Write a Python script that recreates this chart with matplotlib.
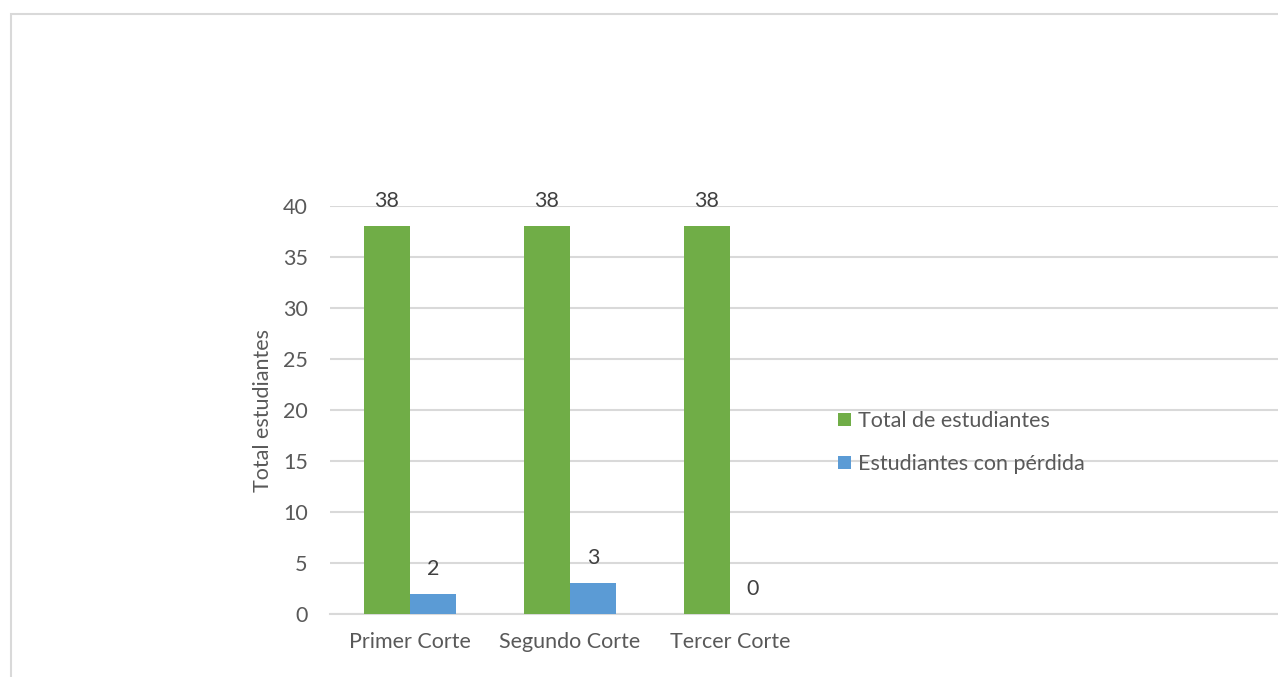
import matplotlib.pyplot as plt
from matplotlib.patches import Rectangle

# Datos
cortes = ["Primer Corte", "Segundo Corte", "Tercer Corte"]
total_estudiantes = [38, 38, 38]
estudiantes_perdida = [2, 3, 0]
etiquetas_series = ["Total de estudiantes", "Estudiantes con pérdida"]

verde = "#70AD47"
azul = "#5B9BD5"
gris_texto = "#595959"
gris_linea = "#D9D9D9"
fs = 15.5

plt.rcParams['font.family'] = ['Lato', 'DejaVu Sans']

W, H = 1278, 677
fig = plt.figure(figsize=(W / 100, H / 100), dpi=100)

# borde del gráfico
fig.patches.append(Rectangle((10.5 / W, -0.1), 1.2, 1 - 13.5 / H + 0.1,
                             transform=fig.transFigure, fill=False,
                             edgecolor=gris_linea, linewidth=1.5))

ax = fig.add_axes([330 / W, 1 - 614 / H, (W - 330) / W, 408 / H])

x = list(range(len(cortes)))
ancho = 0.2875
b1 = ax.bar([i - ancho / 2 for i in x], total_estudiantes, width=ancho, color=verde,
            label=etiquetas_series[0], zorder=3)
b2 = ax.bar([i + ancho / 2 for i in x], estudiantes_perdida, width=ancho, color=azul,
            label=etiquetas_series[1], zorder=3)

for barras in (b1, b2):
    for rect in barras:
        h = rect.get_height()
        ax.annotate(f"{h:g}", (rect.get_x() + rect.get_width() / 2, h),
                    xytext=(0, 18), textcoords="offset points",
                    ha="center", va="center", fontsize=fs, color="#404040",
                    annotation_clip=False)

ax.set_xlim(-0.5, -0.5 + (W - 330) / 160)
ax.set_ylim(0, 40)
ax.set_yticks(range(0, 41, 5))
ax.set_xticks(x)
ax.set_xticklabels(cortes)
ax.tick_params(axis="both", length=0, labelsize=fs, labelcolor=gris_texto)
ax.tick_params(axis="y", pad=16)
ax.tick_params(axis="x", pad=13)
ax.grid(axis="y", color=gris_linea, linewidth=1.5, zorder=0)
for lado in ["top", "right", "left"]:
    ax.spines[lado].set_visible(False)
ax.spines["bottom"].set_color(gris_linea)
ax.spines["bottom"].set_linewidth(1.5)

ax.set_ylabel("Total estudiantes", fontsize=fs, color=gris_texto, labelpad=7)

ax.legend(loc="upper left", bbox_to_anchor=(838 / W, 1 - 411 / H),
          bbox_transform=fig.transFigure, frameon=False, fontsize=fs,
          labelcolor=gris_texto, handlelength=0.6, handleheight=0.6,
          handletextpad=0.33, labelspacing=1.08, borderpad=0, borderaxespad=0)

fig.savefig("out.png", dpi=100, facecolor="white")
